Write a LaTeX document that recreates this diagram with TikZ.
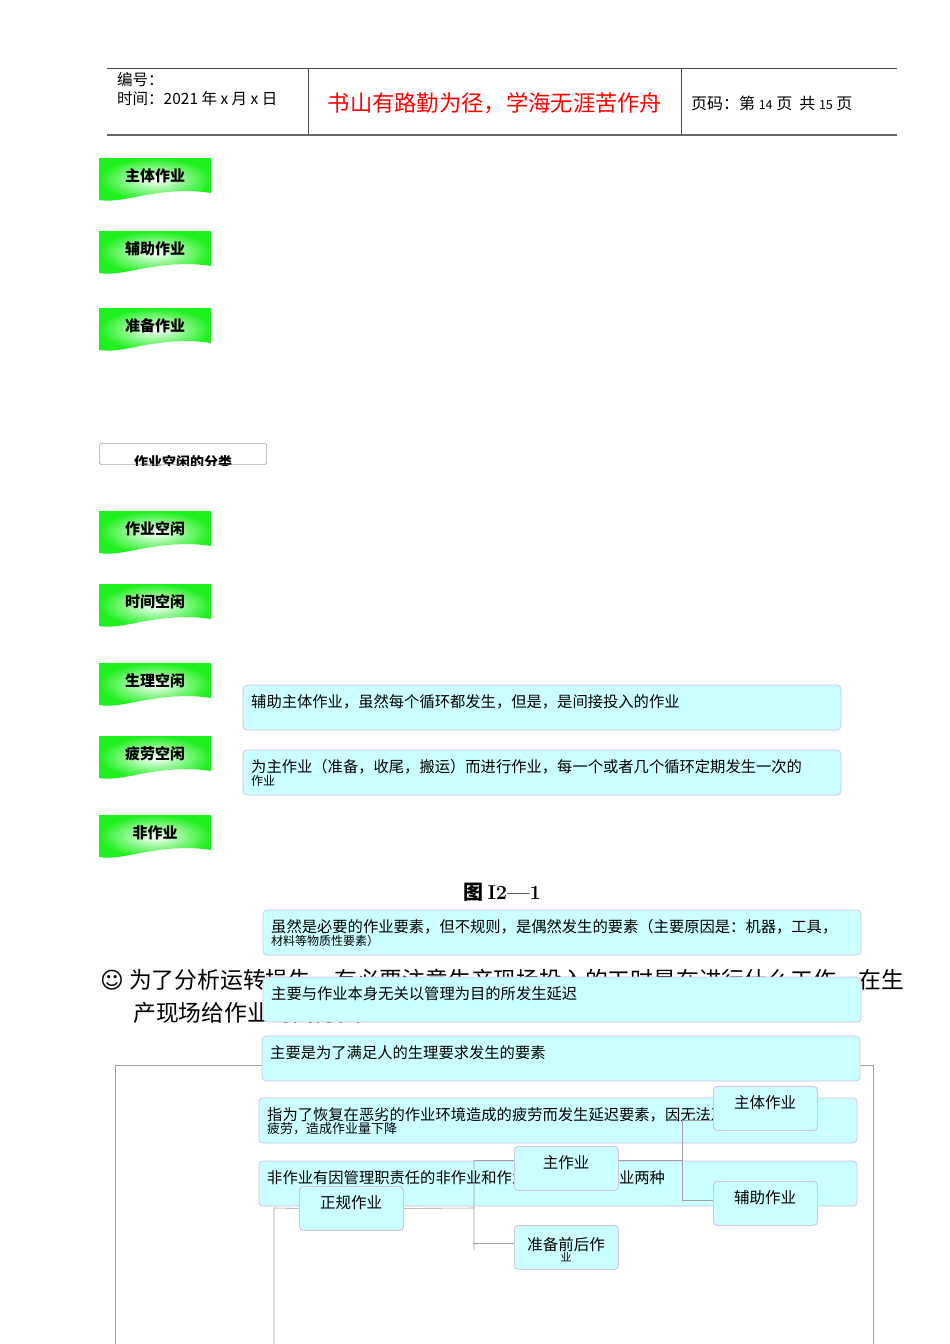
\documentclass[tikz,border=0pt]{standalone}
\usepackage{fontspec}
\setmainfont{Noto Sans CJK SC}
\newfontfamily\dejavu{DejaVu Sans}
\newfontfamily\lmr{Latin Modern Roman}
\definecolor{cy}{RGB}{204,255,255}
\definecolor{cyb}{RGB}{205,195,235}
\definecolor{gr}{RGB}{30,240,30}
\definecolor{ln}{RGB}{160,160,160}
\begin{document}
\begin{tikzpicture}[x=1pt,y=-1pt,
  cbox/.style={draw=cyb,fill=cy,rounded corners=4pt,line width=0.8pt},
  ctext/.style={anchor=north west,font=\fontsize{15.3}{16}\selectfont,inner sep=0pt,align=left},
  sbox/.style={draw=cyb,fill=cy,rounded corners=4pt,line width=0.8pt,minimum width=104pt,minimum height=44pt,anchor=north west,inner sep=0pt},
  stext/.style={font=\fontsize{15.5}{16}\selectfont,align=center},
  conn/.style={draw=ln,line width=0.6pt}]
\useasboundingbox (0,0) rectangle (950,1344);
\fill[white] (0,0) rectangle (950,1344);
% header
\draw[line width=0.8pt,black!70] (107,68) -- (897,68);
\draw[line width=1.2pt,black!60] (107,135) -- (897,135);
\draw[black!70] (308,68) -- (308,135) (681,68) -- (681,135);
\node[anchor=west,inner sep=0,font=\fontsize{15.5}{16}\selectfont] (bh) at (117,80) {编号：};
\node[anchor=west,inner sep=0,font=\fontsize{15.5}{16}\selectfont] (sj) at (117,99) {时间：2021 年 x 月 x 日};
\node[text=red,inner sep=0,font=\fontsize{22.3}{23}\selectfont] (tt) at (495,103) {书山有路勤为径，学海无涯苦作舟};
\node[anchor=west,inner sep=0,font=\fontsize{16}{16}\selectfont] (ym) at (691,103) {页码：第 {\fontsize{12.5}{12}\selectfont 14} 页\ \ 共 {\fontsize{12.5}{12}\selectfont 15} 页};
% green tabs
\foreach \y/\t [count=\i] in {158/主体作业,231/辅助作业,308/准备作业,511/作业空闲,584/时间空闲,663/生理空闲,736/疲劳空闲,815/非作业}{
  \shade[inner color=white,outer color=gr] (99,\y) -- (211,\y) -- (211,\y+35) .. controls (180,\y+30) and (150,\y+36) .. (130,\y+40) .. controls (115,\y+43) and (105,\y+43) .. (99,\y+42) -- cycle;
  \node[font=\bfseries\fontsize{15}{16}\selectfont,inner sep=0] (g\i) at (155,\y+18) {\t};
}
% classification box
\begin{scope}
\clip (99,443) rectangle (267,465);
\draw[ln,rounded corners=2pt,fill=white] (99.5,443.5) rectangle (266.5,464.5);
\node[font=\bfseries\fontsize{14}{15}\selectfont,inner sep=0] (fl) at (183,462) {作业空闲的分类};
\end{scope}
\draw[ln,rounded corners=2pt] (99.5,443.5) rectangle (266.5,464.5);
% title and paragraph
\node[font=\bfseries\fontsize{20}{20}\selectfont,inner sep=0] (fig) at (502,892) {图 {\lmr I2—1}};
\node[anchor=west,inner sep=0,font=\fontsize{22.8}{24}\selectfont] (p1) at (100,980) {{\dejavu ☺} 为了分析运转损失，有必要注意生产现场投入的工时是在进行什么工作，在生};
\node[anchor=west,inner sep=0,font=\fontsize{22.8}{24}\selectfont] (p2) at (133,1013) {产现场给作业时间分类};
% big frame
\draw[ln] (115,1344) -- (115,1065) -- (873,1065) -- (873,1344);
% cyan boxes
\draw[cbox] (243,685) rectangle (841,730);
\node[ctext] (c1) at (251,694) {辅助主体作业，虽然每个循环都发生，但是，是间接投入的作业};
\draw[cbox] (243,750) rectangle (841,795);
\node[ctext] (c2) at (251,759) {为主作业（准备，收尾，搬运）而进行作业，每一个或者几个循环定期发生一次的\\[-3pt]{\fontsize{12}{12}\selectfont 作业}};
\draw[cbox] (263,910) rectangle (861,955);
\node[ctext] (c3) at (271,919) {虽然是必要的作业要素，但不规则，是偶然发生的要素（主要原因是：机器，工具，\\[-3pt]{\fontsize{12}{12}\selectfont 材料等物质性要素）}};
\draw[cbox] (263,977) rectangle (861,1022);
\node[ctext] (c4) at (271,986) {主要与作业本身无关以管理为目的所发生延迟};
\draw[cbox] (262,1036) rectangle (860,1081);
\node[ctext] (c5) at (270,1045) {主要是为了满足人的生理要求发生的要素};
\draw[cbox] (259,1098) rectangle (857,1143);
\node[ctext] (c6) at (267,1107) {指为了恢复在恶劣的作业环境造成的疲劳而发生延迟要素，因无法及时恢复\\[-3pt]{\fontsize{13}{13}\selectfont 疲劳，造成作业量下降}};
\draw[cbox] (259,1161) rectangle (857,1206);
\node[ctext] (c7) at (267,1170) {非作业有因管理职责任的非作业和作业者责任的非作业两种};
% connectors
\coordinate (b0) at (274,1344);
\node[sbox] (zg) at (299,1186) {};
\node[sbox] (zz) at (514,1146) {};
\node[sbox] (zb) at (514,1225) {};
\node[sbox] (zt) at (713,1086) {};
\node[sbox] (fz) at (713,1181) {};
\draw[conn] (zg.west) -- (274,1208) -- (b0);
\draw[conn] (zg.east) -- (474,1208) (474,1160) -- (474,1250);
\draw[conn] (474,1160) -- (zz.west|-0,1160);
\draw[conn] (474,1243) -- (zb.west|-0,1243);
\draw[conn] (zz.east|-0,1160) -- (682,1160) (682,1120) -- (682,1200);
\draw[conn] (682,1200) -- (fz.west|-0,1200);
\draw[conn] (682,1120) -- (zt.west|-0,1120);
\node[sbox] at (299,1186) {}; \node[sbox] at (514,1146) {}; \node[sbox] at (514,1225) {};
\node[sbox] at (713,1086) {}; \node[sbox] at (713,1181) {};
\node[stext] (tzg) at (351,1203) {正规作业};
\node[stext] (tzz) at (566,1163) {主作业};
\node[stext,font=\fontsize{15.5}{14}\selectfont] (tzb) at (566,1250) {准备前后作\\[-3pt]{\fontsize{11}{11}\selectfont 业}};
\node[stext] (tzt) at (765,1103) {主体作业};
\node[stext] (tfz) at (765,1198) {辅助作业};
\end{tikzpicture}
\end{document}
